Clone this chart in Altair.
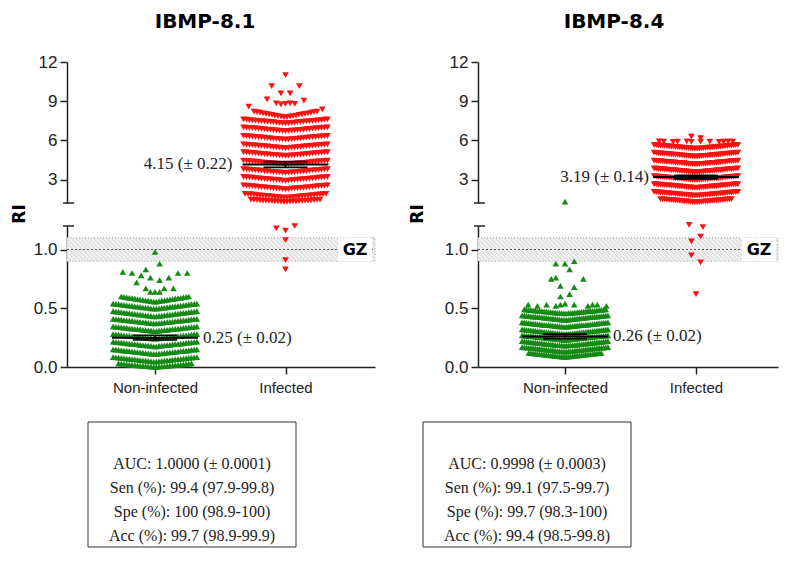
import altair as alt
import pandas as pd

# ------------------------------------------------------------------ data
panels = ["IBMP-8.1", "IBMP-8.4"]
groups = ["Non-infected", "Infected"]

means = {"IBMP-8.1": [0.25, 4.15], "IBMP-8.4": [0.26, 3.19]}
errors = {"IBMP-8.1": [0.02, 0.22], "IBMP-8.4": [0.02, 0.14]}
mean_labels = {"IBMP-8.1": ["0.25 (± 0.02)", "4.15 (± 0.22)"],
               "IBMP-8.4": ["0.26 (± 0.02)", "3.19 (± 0.14)"]}

auc = ["1.0000 (± 0.0001)", "0.9998 (± 0.0003)"]
sen = ["99.4 (97.9-99.8)", "99.1 (97.5-99.7)"]
spe = ["100 (98.9-100)", "99.7 (98.3-100)"]
acc = ["99.7 (98.9-99.9)", "99.4 (98.5-99.8)"]

grey_zone = [0.9, 1.1]
cutoff = 1.0
break_value = 1.2
upper_max = 12
upper_ticks = [3, 6, 9, 12]
lower_ticks = [0.0, 0.5, 1.0]

# dense rows of the dot plots: (value at row centre, value at row ends, number of points)
ni81_rows = [(0.0, 0.03, 28), (0.045, 0.085, 32), (0.11, 0.15, 32), (0.175, 0.215, 32),
             (0.24, 0.28, 32), (0.305, 0.345, 32), (0.37, 0.41, 32), (0.43, 0.475, 32),
             (0.495, 0.54, 32), (0.555, 0.60, 26)]
in81_rows = [(1.28, 1.45, 24), (1.6, 1.9, 28), (2.25, 2.55, 29), (2.9, 3.2, 29),
             (3.5, 3.8, 29), (4.15, 4.45, 29), (4.8, 5.1, 29), (5.4, 5.7, 29),
             (6.05, 6.35, 29), (6.7, 7.0, 29), (7.3, 7.6, 29), (7.75, 8.2, 22)]
ni84_rows = [(0.085, 0.12, 34), (0.13, 0.17, 40), (0.18, 0.22, 40), (0.23, 0.27, 40),
             (0.28, 0.32, 40), (0.34, 0.38, 40), (0.40, 0.44, 40), (0.455, 0.49, 38)]
in84_rows = [(1.25, 1.5, 34), (1.75, 2.05, 40), (2.35, 2.65, 40), (2.95, 3.25, 40),
             (3.55, 3.85, 40), (4.15, 4.45, 40), (4.75, 5.05, 40), (5.35, 5.65, 40)]

# isolated points, each row read left to right on the symbol grid (None = empty place)
ni81_sparse_lower = [
    [0.81, None, 0.80, 0.72, 0.78, 0.83, 0.76, None, 0.74, None, 0.76, None, 0.80, None, 0.80],
    [None, None, 0.67, 0.64, 0.64, 0.64, 0.67, None, 0.67],
    [None, None, 0.88],
    [0.98],
]
in81_sparse_upper = [
    [11.0],
    [10.16, None, None, None, None, None, 10.16],
    [9.6, None, 9.6],
    [9.14, None, None, None, None, None, None, None, 9.04],
    [8.84, 8.76, 8.8, 8.84, 8.8],
    [8.58] + [None] * 15 + [8.38],
]
in81_sparse_lower = [[1.18, None, 1.16, None, 1.20], [1.08], [0.91], [0.83]]
ni84_sparse_upper = [[1.3]]
ni84_sparse_lower = [
    [0.88, None, 0.88, None, 0.90],
    [None, None, 0.83],
    [None, 0.75, 0.76, None, None, None, None, None, 0.75],
    [None, 0.69, None, None, 0.68],
    [0.60, None, 0.62],
    [None, 0.53, None, 0.52, None, 0.53, None, 0.52, 0.53, 0.54, None, 0.53, None, None,
     0.52, 0.53, 0.53, None, 0.52],
]
in84_sparse_upper = [
    [6.28, None, 6.16],
    [5.92, 5.9, None, 5.88, 5.9, None, 5.92, 5.88, None, 5.9, None, 5.9, None, 5.88, 5.9, 5.92, 5.9],
]
in84_sparse_lower = [[1.21, None, None, 1.19], [1.07, None, 1.11], [0.95, None, 0.89], [0.62]]

dense = {("IBMP-8.1", 0): ni81_rows, ("IBMP-8.1", 1): in81_rows,
         ("IBMP-8.4", 0): ni84_rows, ("IBMP-8.4", 1): in84_rows}
sparse = {("IBMP-8.1", 0): {"lower": ni81_sparse_lower},
          ("IBMP-8.1", 1): {"upper": in81_sparse_upper, "lower": in81_sparse_lower},
          ("IBMP-8.4", 0): {"upper": ni84_sparse_upper, "lower": ni84_sparse_lower},
          ("IBMP-8.4", 1): {"upper": in84_sparse_upper, "lower": in84_sparse_lower}}

# ------------------------------------------------------------------ layout (pixels on the page)
PAGE = 8
FW, FH = 771, 552
UP_TOP, UP_BOT = 62, 203
LO_TOP, LO_BOT = 226, 367
GRID = 4.6
MEAN_HALF, ERR_HALF = 43, 22
HATCH_STEP = 4.5
geom = {
    "IBMP-8.1": dict(left=67, right=375, centers=[155, 285.5], spacing=[2.7, 3.0],
                     title_x=205, ri_x=20, box=(88, 296), label_dx=[48, -53], gz=(338, 372)),
    "IBMP-8.4": dict(left=478, right=778, centers=[565, 696], spacing=[2.2, 2.15],
                     title_x=614, ri_x=418, box=(423, 631), label_dx=[48, -47], gz=(742, 776)),
}
GREEN, RED, INK = "#158a15", "#ff1010", "#222222"
SANS, SERIF, BOLD = "Liberation Sans", "Liberation Serif", "DejaVu Sans"


def cx(v):
    return v - PAGE


def unit(p):
    c0, c1 = geom[p]["centers"]
    return c1 - c0


def to_unit(p, xpx):
    return 1 + (xpx - geom[p]["centers"][0]) / unit(p)


def lower_px(v):
    return LO_BOT - v / break_value * (LO_BOT - LO_TOP)


def lower_val(ypx):
    return (LO_BOT - ypx) / (LO_BOT - LO_TOP) * break_value


def xscale(p):
    g = geom[p]
    return alt.Scale(domain=[to_unit(p, g["left"]), to_unit(p, g["right"])],
                     range=[cx(g["left"]), cx(g["right"])])


def yscale(seg):
    if seg == "upper":
        return alt.Scale(domain=[break_value, upper_max], range=[cx(UP_BOT), cx(UP_TOP)])
    return alt.Scale(domain=[0, break_value], range=[cx(LO_BOT), cx(LO_TOP)])


def X(p, field="x", axis=None):
    return alt.X(f"{field}:Q", scale=xscale(p), axis=axis)


def Y(seg, field="y", axis=None):
    return alt.Y(f"{field}:Q", scale=yscale(seg), axis=axis)


def dense_layout(rows, spacing):
    out = []
    for lo, hi, n in rows:
        half = (n - 1) / 2
        for k in range(n):
            rel = abs(k - half) / half if half else 0
            out.append(((k - half) * spacing, lo + (hi - lo) * rel))
    return out


def sparse_layout(rows):
    out = []
    for row in rows:
        half = (len(row) - 1) / 2
        for k, v in enumerate(row):
            if v is not None:
                out.append(((k - half) * GRID, v))
    return out


def hatch(p):
    g = geom[p]
    left, right = g["left"], g["right"]
    top, bot = lower_px(grey_zone[1]), lower_px(grey_zone[0])
    h = bot - top
    rows = []
    x0 = left - h
    while x0 < right:
        xa, ya, xb, yb = x0, top, x0 + h, bot
        if xa < left:
            ya, xa = top + (left - xa), left
        if xb > right:
            yb, xb = bot - (xb - right), right
        if xb > xa:
            rows.append({"x": to_unit(p, xa), "x2": to_unit(p, xb),
                         "y": lower_val(ya), "y2": lower_val(yb)})
        x0 += HATCH_STEP
    return pd.DataFrame(rows)


layers = []

for pi, p in enumerate(panels):
    g = geom[p]
    u = unit(p)
    # grey zone
    d0, d1 = to_unit(p, g["left"]), to_unit(p, g["right"])
    gz = pd.DataFrame({"x": [d0], "x2": [d1], "y": [grey_zone[0]], "y2": [grey_zone[1]]})
    layers.append(alt.Chart(gz).mark_rect(fill="#f1f1f1").encode(
        x=X(p), x2="x2:Q", y=Y("lower"), y2="y2:Q"))
    layers.append(alt.Chart(hatch(p)).mark_rule(color="#d2d2d2", strokeWidth=1).encode(
        x=X(p), x2="x2:Q", y=Y("lower"), y2="y2:Q"))
    layers.append(alt.Chart(gz).mark_rect(fillOpacity=0, stroke="#a0a0a0", strokeWidth=1,
                                          strokeDash=[1, 2]).encode(
        x=X(p), x2="x2:Q", y=Y("lower"), y2="y2:Q"))
    cut = pd.DataFrame({"x": [d0], "x2": [d1], "y": [cutoff]})
    layers.append(alt.Chart(cut).mark_rule(color="#555", strokeWidth=1, strokeDash=[2, 2]).encode(
        x=X(p), x2="x2:Q", y=Y("lower")))
    gzl = pd.DataFrame({"y": [grey_zone[0]], "y2": [grey_zone[1]]})
    layers.append(alt.Chart(gzl).mark_rect(fill="white").encode(
        x=alt.value(cx(g["gz"][0])), x2=alt.value(cx(g["gz"][1])), y=Y("lower"), y2="y2:Q"))
    gzt = pd.DataFrame({"y": [cutoff], "t": ["GZ"]})
    layers.append(alt.Chart(gzt).mark_text(font=BOLD, fontWeight="bold", fontSize=16, color="black",
                                           align="center", baseline="middle").encode(
        x=alt.value(cx((g["gz"][0] + g["gz"][1]) / 2)), y=Y("lower"), text="t:N"))

    # points
    for gi, grp in enumerate(groups):
        color = GREEN if gi == 0 else RED
        shape = "triangle-up" if gi == 0 else "triangle-down"
        seg_pts = {"upper": [], "lower": []}
        for off, v in dense_layout(dense[(p, gi)], g["spacing"][gi]):
            seg_pts["upper" if v >= break_value else "lower"].append((off, v))
        for seg, rows in sparse[(p, gi)].items():
            seg_pts[seg].extend(sparse_layout(rows))
        for seg, pts in seg_pts.items():
            if not pts:
                continue
            df = pd.DataFrame({"x": [gi + 1 + o / u for o, _ in pts], "y": [v for _, v in pts]})
            layers.append(alt.Chart(df).mark_point(shape=shape, filled=True, size=44, color=color,
                                                   opacity=1, strokeWidth=0).encode(
                x=X(p), y=Y(seg)))

    # means and error bars
    for gi, grp in enumerate(groups):
        seg = "lower" if means[p][gi] < break_value else "upper"
        m, e = means[p][gi], errors[p][gi]
        c = gi + 1
        ml = pd.DataFrame({"x": [c - MEAN_HALF / u], "x2": [c + MEAN_HALF / u], "y": [m]})
        layers.append(alt.Chart(ml).mark_rule(color="black", strokeWidth=2).encode(
            x=X(p), x2="x2:Q", y=Y(seg)))
        el = pd.DataFrame({"x": [c - ERR_HALF / u] * 2, "x2": [c + ERR_HALF / u] * 2, "y": [m - e, m + e]})
        layers.append(alt.Chart(el).mark_rule(color="black", strokeWidth=1.6).encode(
            x=X(p), x2="x2:Q", y=Y(seg)))
        vl = pd.DataFrame({"x": [c], "y": [m - e], "y2": [m + e]})
        layers.append(alt.Chart(vl).mark_rule(color="black", strokeWidth=1.5).encode(
            x=X(p), y=Y(seg), y2="y2:Q"))
        dx = g["label_dx"][gi]
        tl = pd.DataFrame({"x": [c + dx / u], "y": [m], "t": [mean_labels[p][gi]]})
        layers.append(alt.Chart(tl).mark_text(font=SERIF, fontSize=17, color="#222",
                                              align="left" if dx > 0 else "right",
                                              baseline="middle").encode(
            x=X(p), y=Y(seg), text="t:N"))

    # axes
    ax_common = dict(tickSize=7, tickWidth=1.5, tickColor=INK, domainWidth=1.5, domainColor=INK,
                     labelFont=SANS, labelColor=INK, grid=False, title=None)
    carrier = pd.DataFrame({"x": [1], "y": [1.0]})
    layers.append(alt.Chart(carrier).mark_point(opacity=0).encode(
        x=X(p),
        y=Y("upper", axis=alt.Axis(orient="left", offset=-cx(g["left"]), values=upper_ticks,
                                   format="d", labelFontSize=17, labelPadding=3, **ax_common))))
    layers.append(alt.Chart(carrier).mark_point(opacity=0).encode(
        x=X(p, axis=alt.Axis(orient="bottom", offset=cx(LO_BOT) - FH, values=[1, 2],
                             labelExpr=f"datum.value == 1 ? '{groups[0]}' : '{groups[1]}'",
                             labelFontSize=15, labelPadding=6, **ax_common)),
        y=Y("lower", axis=alt.Axis(orient="left", offset=-cx(g["left"]), values=lower_ticks,
                                   format=".1f", labelFontSize=17, labelPadding=3, **ax_common))))
    # axis break marks
    for seg in ["upper", "lower"]:
        bk = pd.DataFrame({"y": [break_value]})
        layers.append(alt.Chart(bk).mark_rule(color=INK, strokeWidth=1.5).encode(
            x=alt.value(cx(g["left"] - 4)), x2=alt.value(cx(g["left"] + 7)), y=Y(seg)))

    # titles
    tt = pd.DataFrame({"t": [p]})
    layers.append(alt.Chart(tt).mark_text(font=BOLD, fontWeight="bold", fontSize=20, color="black",
                                          align="center", baseline="alphabetic").encode(
        x=alt.value(cx(g["title_x"])), y=alt.value(20), text="t:N"))
    ri = pd.DataFrame({"t": ["RI"]})
    layers.append(alt.Chart(ri).mark_text(font=BOLD, fontWeight="bold", fontSize=17, color="black",
                                          angle=270, align="center", baseline="middle").encode(
        x=alt.value(cx(g["ri_x"])), y=alt.value(cx(214)), text="t:N"))

    # statistics box
    bx0, bx1 = g["box"]
    box = pd.DataFrame({"t": ["box"]})
    layers.append(alt.Chart(box).mark_rect(fillOpacity=0, stroke="#333", strokeWidth=1).encode(
        x=alt.value(cx(bx0)), x2=alt.value(cx(bx1)), y=alt.value(cx(422)), y2=alt.value(cx(547))))
    lines = pd.DataFrame({"row": [0, 1, 2, 3],
                          "t": [f"AUC: {auc[pi]}", f"Sen (%): {sen[pi]}",
                                f"Spe (%): {spe[pi]}", f"Acc (%): {acc[pi]}"]})
    layers.append(alt.Chart(lines).mark_text(font=SERIF, fontSize=16, color="#222",
                                             align="center", baseline="middle").encode(
        x=alt.value(cx((bx0 + bx1) / 2)),
        y=alt.Y("row:Q", scale=alt.Scale(domain=[0, 3], range=[cx(464), cx(536)]), axis=None),
        text="t:N"))

chart = alt.layer(*layers).resolve_scale(x="independent", y="independent").properties(
    width=FW, height=FH, autosize=alt.AutoSizeParams(type="none"), padding=0
).configure_view(stroke=None)

chart.save("out.html", embed_options={"renderer": "svg", "actions": False})
